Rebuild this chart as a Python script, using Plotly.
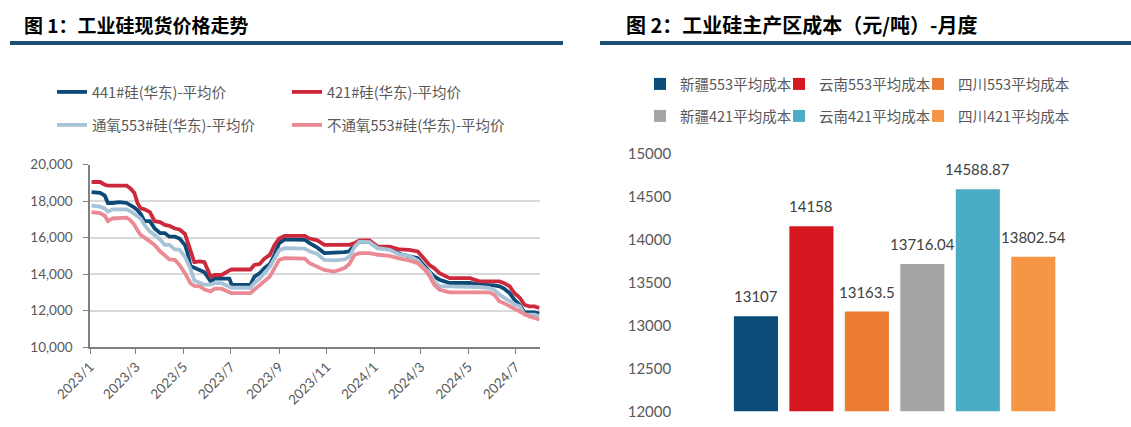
import plotly.graph_objects as go

# ---------------- data: chart 1 ----------------
dates = [
    "2023-01-03", "2023-01-14", "2023-01-20", "2023-01-24", "2023-01-30", "2023-02-08",
    "2023-02-17", "2023-02-22", "2023-02-27", "2023-03-03", "2023-03-07", "2023-03-12",
    "2023-03-19", "2023-03-25", "2023-04-01", "2023-04-07", "2023-04-13", "2023-04-20",
    "2023-04-26", "2023-05-03", "2023-05-06", "2023-05-10", "2023-05-15", "2023-05-22",
    "2023-05-28", "2023-06-05", "2023-06-10", "2023-06-19", "2023-06-29", "2023-07-02",
    "2023-07-12", "2023-07-26", "2023-07-31", "2023-08-07", "2023-08-13", "2023-08-20",
    "2023-08-26", "2023-09-01", "2023-09-08", "2023-09-21", "2023-10-04", "2023-10-10",
    "2023-10-20", "2023-10-29", "2023-11-11", "2023-11-24", "2023-11-30", "2023-12-07",
    "2023-12-13", "2023-12-26", "2024-01-06", "2024-01-21", "2024-02-03", "2024-02-15",
    "2024-02-26", "2024-03-06", "2024-03-12", "2024-03-18", "2024-03-25", "2024-04-07",
    "2024-04-20", "2024-05-03", "2024-05-15", "2024-05-28", "2024-06-03", "2024-06-10",
    "2024-06-16", "2024-06-23", "2024-06-29", "2024-07-06", "2024-07-12", "2024-07-18",
    "2024-07-25", "2024-07-31",
]

si_441 = [
    18500, 18450, 18300, 17900, 17900, 17950, 17900, 17800, 17650, 17500, 17300, 16900,
    16900, 16500, 16250, 16250, 16050, 16050, 15950, 15600, 15200, 14450, 14350, 14250,
    14100, 13600, 13750, 13750, 13750, 13400, 13400, 13400, 13850, 14050, 14330, 14550,
    15050, 15700, 15900, 15900, 15880, 15700, 15450, 15150, 15150, 15200, 15250, 15600,
    15780, 15750, 15420, 15400, 15100, 15000, 14870, 14420, 14150, 13870, 13690, 13510,
    13510, 13510, 13420, 13420, 13380, 13330, 13200, 12960, 12600, 12300, 11900, 11900,
    11900, 11830,
]

si_421 = [
    19050, 19050, 18900, 18850, 18850, 18850, 18850, 18700, 18450, 17900, 17600, 17550,
    17400, 16900, 16850, 16700, 16650, 16500, 16450, 16200, 15850, 15300, 14650, 14700,
    14650, 13850, 13950, 13950, 14200, 14250, 14250, 14250, 14500, 14550, 14850, 15050,
    15600, 15950, 16100, 16100, 16100, 15950, 15850, 15600, 15600, 15600, 15600, 15700,
    15850, 15850, 15500, 15500, 15350, 15330, 15240, 14800, 14500, 14330, 14050, 13780,
    13780, 13780, 13600, 13600, 13600, 13600, 13500, 13330, 12960, 12700, 12320, 12230,
    12230, 12140,
]

si_553_ox = [
    17750, 17700, 17600, 17420, 17550, 17550, 17550, 17450, 17300, 17150, 17050, 16700,
    16330, 16150, 15900, 15600, 15600, 15350, 15330, 14950, 14700, 14300, 13650, 13500,
    13420, 13420, 13500, 13500, 13300, 13250, 13250, 13250, 13500, 13750, 14050, 14400,
    14850, 15300, 15420, 15420, 15400, 15250, 15100, 14780, 14750, 14800, 14960, 15500,
    15780, 15750, 15420, 15330, 15060, 15000, 14750, 14300, 14100, 13600, 13330, 13330,
    13330, 13330, 13290, 13250, 13140, 12870, 12700, 12500, 12350, 12230, 11780, 11780,
    11780, 11680,
]

si_553_nox = [
    17400, 17350, 17200, 16900, 17050, 17100, 17100, 16950, 16700, 16400, 16150, 16000,
    15800, 15600, 15250, 15050, 14800, 14780, 14500, 14050, 13800, 13500, 13350, 13330,
    13150, 13050, 13200, 13200, 13000, 12960, 12960, 12960, 13140, 13400, 13600, 13870,
    14330, 14780, 14870, 14870, 14850, 14600, 14420, 14230, 14140, 14330, 14550, 15060,
    15150, 15150, 15060, 15000, 14850, 14750, 14600, 14230, 13900, 13420, 13140, 13000,
    13000, 13000, 13000, 13000, 12870, 12500, 12400, 12230, 12100, 11960, 11800, 11680,
    11600, 11500,
]

line_names = ["441#硅(华东)-平均价", "421#硅(华东)-平均价",
              "通氧553#硅(华东)-平均价", "不通氧553#硅(华东)-平均价"]
line_colors = ["#0D4A78", "#CC2A3C", "#A7C3D7", "#EA8A95"]

y_ticks_left = [10000, 12000, 14000, 16000, 18000, 20000]

# ---------------- data: chart 2 ----------------
cost_names = ["新疆553平均成本", "云南553平均成本", "四川553平均成本",
              "新疆421平均成本", "云南421平均成本", "四川421平均成本"]
cost_values = [13107, 14158, 13163.5, 13716.04, 14588.87, 13802.54]
cost_colors = ["#0B4C7A", "#D5181F", "#EC7C31", "#A5A5A5", "#4BACC6", "#F59545"]
y_ticks_right = [12000, 12500, 13000, 13500, 14000, 14500, 15000]

W, H = 1131, 427
LAT = "Lato, 'Noto Sans CJK SC', sans-serif"
CJK = "'Noto Sans CJK SC', sans-serif"
GRAY = "#595959"


def px(x):
    return x / W


def py(y):
    return 1 - y / H


fig = go.Figure()

# legend placement (text start x, row centre y) -- layout only
line_leg_pos = [(92, 92), (327, 92), (92, 125), (327, 125)]
bar_leg_pos = [(680, 84), (819, 84), (958, 84), (680, 116), (819, 116), (958, 116)]

legends = {}
for i, (vals, name, col) in enumerate(zip([si_441, si_421, si_553_ox, si_553_nox],
                                          line_names, line_colors)):
    lid = "legend" if i == 0 else f"legend{i + 1}"
    fig.add_trace(go.Scatter(
        x=dates, y=vals, name=name, mode="lines",
        line=dict(color=col, width=3.8),
        xaxis="x", yaxis="y", legend=lid,
    ))
    legends[lid] = line_leg_pos[i]

for j, (name, val, col) in enumerate(zip(cost_names, cost_values, cost_colors)):
    lid = f"legend{j + 5}"
    fig.add_trace(go.Bar(
        x=[name], y=[val], name=name, marker=dict(color=col, line=dict(width=0)),
        xaxis="x2", yaxis="y2", legend=lid,
    ))
    legends[lid] = bar_leg_pos[j]


def fmt(v):
    return f"{v:.2f}".rstrip("0").rstrip(".")


annotations = []
for name, val in zip(cost_names, cost_values):
    annotations.append(dict(
        x=name, y=val, xref="x2", yref="y2", text=fmt(val), showarrow=False,
        yshift=20, yanchor="middle", font=dict(family=LAT, size=15, color="#404040"),
    ))

annotations += [
    dict(x=px(22), y=py(25), xref="paper", yref="paper", xanchor="left", yanchor="middle",
         text="<b>图 1：工业硅现货价格走势</b>", showarrow=False,
         font=dict(family=CJK, size=19, color="#000000")),
    dict(x=px(624), y=py(25), xref="paper", yref="paper", xanchor="left", yanchor="middle",
         text="<b>图 2：工业硅主产区成本（元/吨）-月度</b>", showarrow=False,
         font=dict(family=CJK, size=20, color="#000000")),
]

shapes = [
    dict(type="line", xref="paper", yref="paper", x0=px(10), x1=px(563), y0=py(43), y1=py(43),
         line=dict(color="#1B4F76", width=4)),
    dict(type="line", xref="paper", yref="paper", x0=px(600), x1=px(1131), y0=py(43), y1=py(43),
         line=dict(color="#1B4F76", width=4)),
]

legend_layout = {}
for lid, (tx, ty) in legends.items():
    legend_layout[lid] = dict(
        orientation="h", xanchor="left", yanchor="middle", bgcolor="rgba(0,0,0,0)",
        font=dict(family=CJK, size=14.5, color=GRAY),
        x=px(tx - 40), y=py(ty),
    )

fig.update_layout(
    width=W, height=H, margin=dict(l=0, r=0, t=0, b=0, autoexpand=False),
    paper_bgcolor="white", plot_bgcolor="white",
    showlegend=True,
    barmode="overlay", bargap=0.205,
    xaxis=dict(domain=[px(90), px(540)], type="date", range=["2023-01-01", "2024-08-01"],
               tick0="2023-01-01", dtick="M2", tickformat="%Y/%-m", tickangle=-45,
               ticks="outside", ticklen=5, tickcolor="#808080", tickwidth=1.2,
               showline=True, linecolor="#808080", linewidth=1.5, showgrid=False,
               automargin=False,
               tickfont=dict(family=LAT, size=13.5, color=GRAY), anchor="y", fixedrange=True),
    yaxis=dict(domain=[py(347), py(164.7)], range=[10000, 20000], tickvals=y_ticks_left,
               tickformat=",d", ticks="outside", ticklen=5, tickcolor="#808080",
               showline=True, linecolor="#808080", linewidth=1.5,
               showgrid=True, gridcolor="#D9D9D9", gridwidth=1.5, zeroline=False,
               ticklabelstandoff=8, automargin=False,
               tickfont=dict(family=LAT, size=13.5, color=GRAY), anchor="x"),
    xaxis2=dict(domain=[px(728.2), px(1067.8)], type="category", categoryorder="array",
                categoryarray=cost_names, visible=False, anchor="y2", automargin=False),
    yaxis2=dict(domain=[py(411.3), py(154)], range=[12000, 15000], tickvals=y_ticks_right,
                tickformat="d", showgrid=False, showline=False, zeroline=False, ticks="",
                ticklabelstandoff=56, automargin=False,
                tickfont=dict(family=LAT, size=15, color=GRAY), anchor="x2"),
    annotations=annotations,
    shapes=shapes,
    **legend_layout,
)

fig.write_html("out.html")
